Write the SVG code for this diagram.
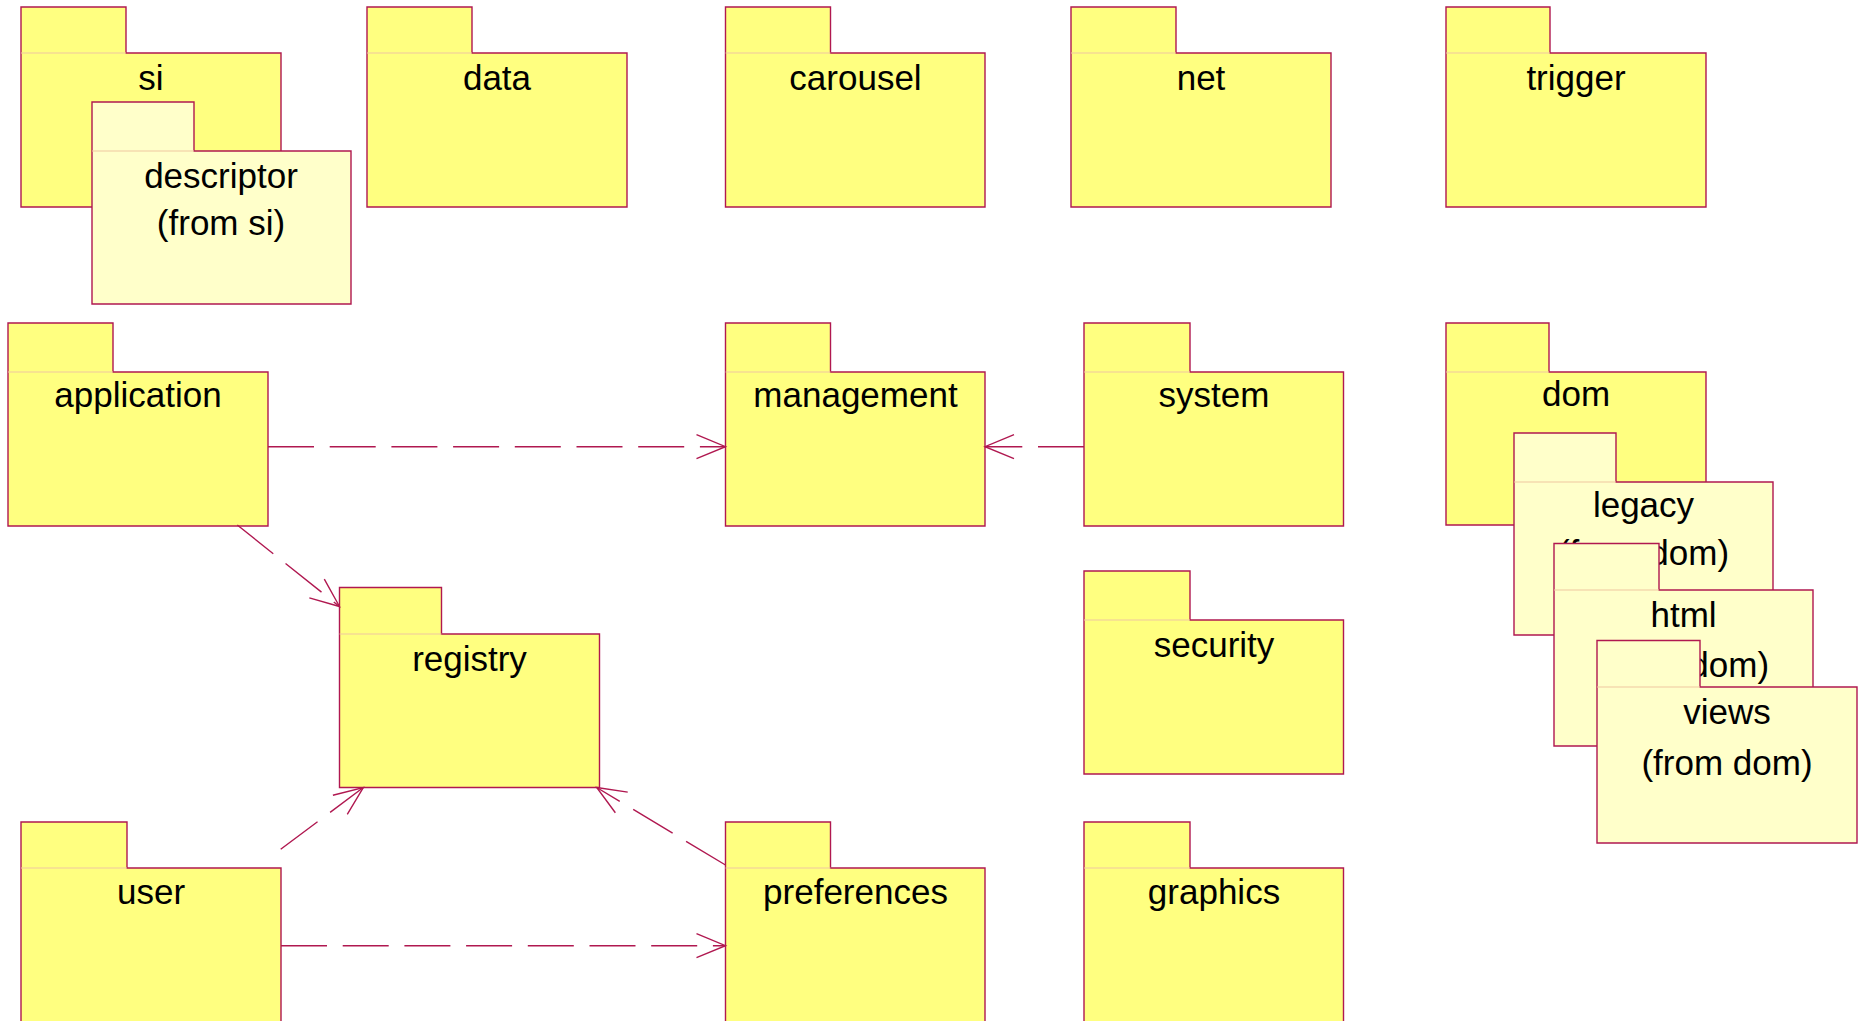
<svg xmlns="http://www.w3.org/2000/svg" width="1862" height="1021" viewBox="0 0 1862 1021">
<defs>
<style>
.pk{fill:#FFFF80;stroke:#B01850;stroke-width:1.4}
.pkl{fill:#FFFFCA;stroke:#B01850;stroke-width:1.4}
.sep{stroke:#F0C8A0;stroke-width:1.2}
.t{font-family:"Liberation Sans",Arial,sans-serif;font-size:35px;fill:#000;text-anchor:middle}
.dep{fill:none;stroke:#B01850;stroke-width:1.4;stroke-dasharray:46 15.7;marker-end:url(#open)}
</style>
<marker id="open" markerUnits="userSpaceOnUse" viewBox="-31 -14 33 28" refX="0" refY="0" markerWidth="33" markerHeight="28" orient="auto" overflow="visible">
<path d="M-29,-12 L0,0 L-29,12" fill="none" stroke="#B01850" stroke-width="1.4"/>
</marker>
</defs>
<rect width="1862" height="1021" fill="#FFFFFF"/>

<g id="si">
<path class="pk" d="M21,7 H126 V53 H281 V207 H21 Z"/><line class="sep" x1="21" y1="53" x2="126" y2="53"/>
<text class="t" x="151" y="90">si</text>
</g>
<g id="descriptor">
<path class="pkl" d="M92,102 H194 V151 H351 V304 H92 Z"/><line class="sep" x1="92" y1="151" x2="194" y2="151"/>
<text class="t" x="221" y="188">descriptor</text>
<text class="t" x="221" y="235">(from si)</text>
</g>
<g id="data">
<path class="pk" d="M367,7 H472 V53 H627 V207 H367 Z"/><line class="sep" x1="367" y1="53" x2="472" y2="53"/>
<text class="t" x="497" y="90">data</text>
</g>
<g id="carousel">
<path class="pk" d="M725.5,7 H830.5 V53 H985 V207 H725.5 Z"/><line class="sep" x1="725.5" y1="53" x2="830.5" y2="53"/>
<text class="t" x="855.5" y="90">carousel</text>
</g>
<g id="net">
<path class="pk" d="M1071,7 H1176 V53 H1331 V207 H1071 Z"/><line class="sep" x1="1071" y1="53" x2="1176" y2="53"/>
<text class="t" x="1201" y="90">net</text>
</g>
<g id="trigger">
<path class="pk" d="M1446,7 H1550 V53 H1706 V207 H1446 Z"/><line class="sep" x1="1446" y1="53" x2="1550" y2="53"/>
<text class="t" x="1576" y="90">trigger</text>
</g>

<g id="application">
<path class="pk" d="M8,323 H113 V372 H268 V526 H8 Z"/><line class="sep" x1="8" y1="372" x2="113" y2="372"/>
<text class="t" x="138" y="407">application</text>
</g>
<g id="management">
<path class="pk" d="M725.5,323 H830.5 V372 H985 V526 H725.5 Z"/><line class="sep" x1="725.5" y1="372" x2="830.5" y2="372"/>
<text class="t" x="855.5" y="407">management</text>
</g>
<g id="system">
<path class="pk" d="M1084,323 H1190 V372 H1343.5 V526 H1084 Z"/><line class="sep" x1="1084" y1="372" x2="1190" y2="372"/>
<text class="t" x="1214" y="407">system</text>
</g>
<g id="security">
<path class="pk" d="M1084,571 H1190 V620 H1343.5 V774 H1084 Z"/><line class="sep" x1="1084" y1="620" x2="1190" y2="620"/>
<text class="t" x="1214" y="657">security</text>
</g>
<g id="registry">
<path class="pk" d="M339.5,587.5 H441.5 V634 H599.5 V787.5 H339.5 Z"/><line class="sep" x1="339.5" y1="634" x2="441.5" y2="634"/>
<text class="t" x="469.5" y="671">registry</text>
</g>
<g id="user">
<path class="pk" d="M21,822 H127 V868 H281 V1023 H21 Z"/><line class="sep" x1="21" y1="868" x2="127" y2="868"/>
<text class="t" x="151" y="904">user</text>
</g>
<g id="preferences">
<path class="pk" d="M725.5,822 H830.5 V868 H985 V1023 H725.5 Z"/><line class="sep" x1="725.5" y1="868" x2="830.5" y2="868"/>
<text class="t" x="855.5" y="904">preferences</text>
</g>
<g id="graphics">
<path class="pk" d="M1084,822 H1190 V868 H1343.5 V1023 H1084 Z"/><line class="sep" x1="1084" y1="868" x2="1190" y2="868"/>
<text class="t" x="1214" y="904">graphics</text>
</g>

<g id="dom">
<path class="pk" d="M1446,323 H1549 V372 H1706 V525 H1446 Z"/><line class="sep" x1="1446" y1="372" x2="1549" y2="372"/>
<text class="t" x="1576" y="406">dom</text>
</g>
<g id="legacy">
<path class="pkl" d="M1514,433 H1616 V482 H1773 V635 H1514 Z"/><line class="sep" x1="1514" y1="482" x2="1616" y2="482"/>
<text class="t" x="1643.5" y="517">legacy</text>
<text class="t" x="1643.5" y="565">(from dom)</text>
</g>
<g id="html">
<path class="pkl" d="M1554,543.5 H1659 V590 H1813 V746 H1554 Z"/><line class="sep" x1="1554" y1="590" x2="1659" y2="590"/>
<text class="t" x="1683.5" y="627">html</text>
<text class="t" x="1683.5" y="677">(from dom)</text>
</g>
<g id="views">
<path class="pkl" d="M1597,640.5 H1700 V687 H1857 V843 H1597 Z"/><line class="sep" x1="1597" y1="687" x2="1700" y2="687"/>
<text class="t" x="1727" y="724">views</text>
<text class="t" x="1727" y="775">(from dom)</text>
</g>

<g id="connectors">
<line class="dep" x1="268" y1="446.7" x2="725.5" y2="446.7"/>
<line class="dep" x1="1084" y1="446.7" x2="985" y2="446.7"/>
<line class="dep" x1="237.3" y1="525" x2="339.5" y2="606.5"/>
<line class="dep" x1="280.7" y1="849.3" x2="363.3" y2="787.5"/>
<line class="dep" x1="725.5" y1="865" x2="596.7" y2="787.5"/>
<line class="dep" x1="281" y1="945.7" x2="725.5" y2="945.7"/>
</g>
</svg>
